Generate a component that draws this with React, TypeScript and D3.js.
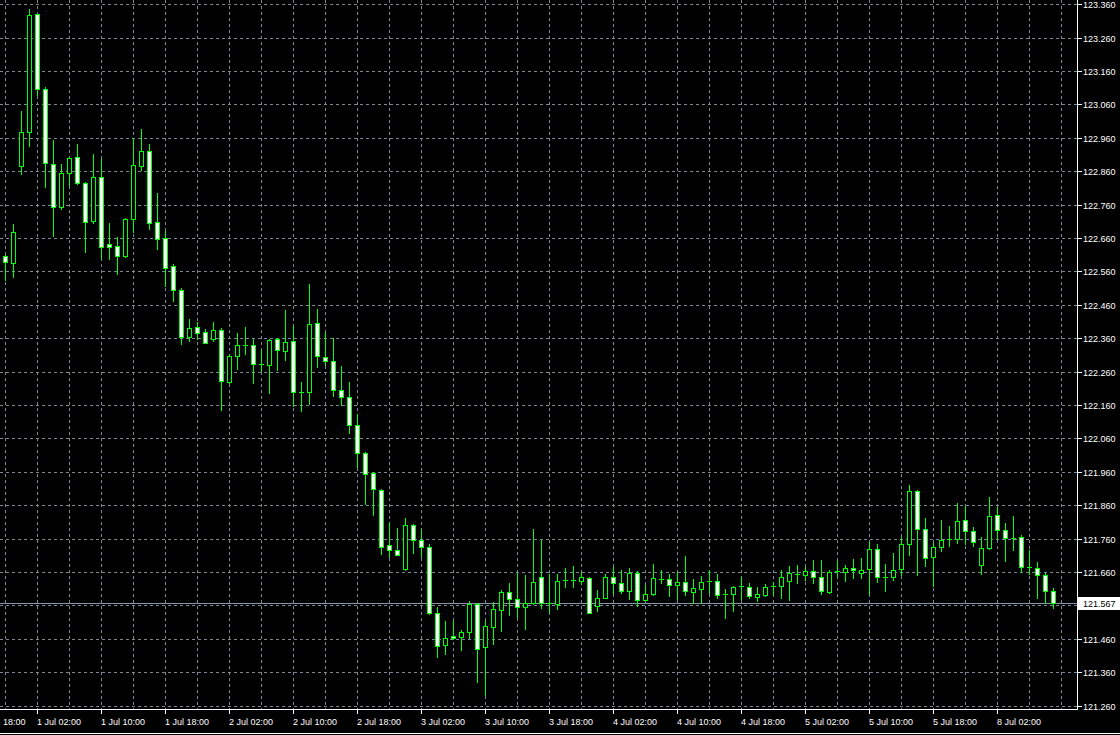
import React from "react";
import * as d3 from "d3";

// ---- data (hourly bars) ----
const sessions = [
  { start: Date.UTC(2019, 5, 30, 22), bars: 122 },
  { start: Date.UTC(2019, 6, 8, 0), bars: 10 },
];

const opens = [
  122.606, 122.587, 122.877, 122.979, 123.331, 123.108, 122.884, 122.754, 122.856, 122.905,
  122.827, 122.712, 122.845, 122.642, 122.636, 122.607, 122.718, 122.877, 122.923, 122.708,
  122.660, 122.576, 122.507, 122.365, 122.396, 122.381, 122.360, 122.387, 122.230, 122.308,
  122.342, 122.342, 122.284, 122.282, 122.360, 122.324, 122.354, 122.201, 122.201, 122.408,
  122.306, 122.294, 122.207, 122.186, 122.102, 122.019, 121.959, 121.908, 121.743, 121.728,
  121.670, 121.803, 121.758, 121.737, 121.539, 121.442, 121.470, 121.466, 121.481, 121.564,
  121.436, 121.496, 121.547, 121.602, 121.581, 121.557, 121.568, 121.647, 121.568, 121.566,
  121.636, 121.636, 121.635, 121.644, 121.560, 121.584, 121.646, 121.629, 121.604, 121.659,
  121.578, 121.596, 121.640, 121.640, 121.623, 121.632, 121.601, 121.610, 121.634, 121.635,
  121.595, 121.595, 121.619, 121.617, 121.586, 121.592, 121.618, 121.619, 121.635, 121.655,
  121.652, 121.665, 121.647, 121.601, 121.665, 121.661, 121.674, 121.658, 121.670, 121.731,
  121.647, 121.646, 121.670, 121.746, 121.905, 121.791, 121.706, 121.736, 121.759, 121.759,
  121.818, 121.785, 121.682, 121.733, 121.833, 121.787, 121.764, 121.767, 121.676, 121.674,
  121.653, 121.605,
];

const highs = [
  122.610, 122.702, 123.041, 123.347, 123.333, 123.112, 122.954, 122.882, 122.903, 122.944,
  122.830, 122.912, 122.899, 122.705, 122.663, 122.722, 122.961, 122.987, 122.944, 122.795,
  122.682, 122.582, 122.511, 122.418, 122.409, 122.388, 122.410, 122.391, 122.313, 122.376,
  122.394, 122.358, 122.325, 122.360, 122.362, 122.447, 122.399, 122.229, 122.525, 122.448,
  122.381, 122.363, 122.279, 122.229, 122.133, 122.022, 121.961, 121.910, 121.810, 121.792,
  121.822, 121.805, 121.791, 121.744, 121.556, 121.516, 121.516, 121.489, 121.573, 121.569,
  121.516, 121.570, 121.606, 121.627, 121.658, 121.652, 121.789, 121.756, 121.656, 121.656,
  121.672, 121.678, 121.661, 121.646, 121.608, 121.654, 121.676, 121.666, 121.672, 121.663,
  121.623, 121.685, 121.666, 121.656, 121.661, 121.708, 121.641, 121.650, 121.666, 121.656,
  121.611, 121.620, 121.645, 121.627, 121.615, 121.624, 121.630, 121.666, 121.678, 121.681,
  121.676, 121.696, 121.696, 121.666, 121.693, 121.681, 121.699, 121.704, 121.751, 121.746,
  121.684, 121.717, 121.766, 121.921, 121.908, 121.822, 121.749, 121.816, 121.798, 121.867,
  121.858, 121.796, 121.766, 121.885, 121.856, 121.808, 121.828, 121.773, 121.727, 121.690,
  121.659, 121.614,
];

const lows = [
  122.537, 122.545, 122.853, 122.937, 123.091, 122.814, 122.667, 122.748, 122.821, 122.823,
  122.619, 122.706, 122.601, 122.599, 122.555, 122.605, 122.678, 122.864, 122.687, 122.628,
  122.519, 122.472, 122.344, 122.352, 122.360, 122.346, 122.353, 122.145, 122.227, 122.269,
  122.314, 122.227, 122.262, 122.197, 122.266, 122.296, 122.157, 122.143, 122.165, 122.275,
  122.281, 122.189, 122.161, 122.076, 121.975, 121.864, 121.831, 121.715, 121.706, 121.711,
  121.668, 121.717, 121.706, 121.535, 121.406, 121.415, 121.460, 121.428, 121.463, 121.333,
  121.294, 121.446, 121.484, 121.532, 121.526, 121.490, 121.566, 121.552, 121.541, 121.550,
  121.616, 121.616, 121.626, 121.537, 121.544, 121.583, 121.597, 121.597, 121.579, 121.560,
  121.577, 121.592, 121.627, 121.588, 121.579, 121.591, 121.567, 121.568, 121.597, 121.584,
  121.523, 121.544, 121.581, 121.584, 121.574, 121.588, 121.594, 121.582, 121.576, 121.627,
  121.636, 121.628, 121.595, 121.598, 121.648, 121.633, 121.643, 121.643, 121.595, 121.632,
  121.604, 121.636, 121.653, 121.712, 121.652, 121.679, 121.619, 121.724, 121.739, 121.747,
  121.746, 121.740, 121.656, 121.731, 121.759, 121.694, 121.726, 121.661, 121.656, 121.583,
  121.568, 121.553,
];

const closes = [
  122.590, 122.678, 122.980, 123.329, 123.108, 122.886, 122.754, 122.857, 122.902, 122.826,
  122.709, 122.845, 122.634, 122.634, 122.607, 122.719, 122.881, 122.923, 122.706, 122.657,
  122.572, 122.506, 122.365, 122.393, 122.378, 122.348, 122.387, 122.233, 122.309, 122.342,
  122.342, 122.285, 122.284, 122.357, 122.327, 122.351, 122.201, 122.201, 122.405, 122.308,
  122.294, 122.207, 122.185, 122.102, 122.017, 121.956, 121.909, 121.736, 121.727, 121.712,
  121.803, 121.757, 121.736, 121.538, 121.439, 121.464, 121.464, 121.482, 121.564, 121.430,
  121.500, 121.551, 121.602, 121.580, 121.557, 121.569, 121.632, 121.569, 121.568, 121.635,
  121.636, 121.636, 121.647, 121.538, 121.584, 121.647, 121.629, 121.604, 121.659, 121.578,
  121.596, 121.644, 121.640, 121.623, 121.632, 121.604, 121.614, 121.632, 121.634, 121.592,
  121.595, 121.617, 121.619, 121.589, 121.596, 121.617, 121.618, 121.645, 121.657, 121.655,
  121.665, 121.647, 121.605, 121.662, 121.665, 121.674, 121.668, 121.668, 121.731, 121.647,
  121.647, 121.668, 121.746, 121.905, 121.791, 121.704, 121.737, 121.758, 121.759, 121.815,
  121.785, 121.752, 121.734, 121.830, 121.787, 121.764, 121.764, 121.676, 121.676, 121.652,
  121.605, 121.567,
];

const priceTicks = [
  "121.260", "121.360", "121.460", "121.560", "121.660", "121.760", "121.860", "121.960",
  "122.060", "122.160", "122.260", "122.360", "122.460", "122.560", "122.660", "122.760",
  "122.860", "122.960", "123.060", "123.160", "123.260", "123.360",
];

const lastPrice = 121.567;
// leftmost time label, only its visible part is shown in the reference
const firstTickLabel = "18:00";

const MONTHS = ["Jan", "Feb", "Mar", "Apr", "May", "Jun", "Jul", "Aug", "Sep", "Oct", "Nov", "Dec"];

// ---- layout ----
const W = 1120;
const H = 735;
const PLOT_R = 1077;
const PLOT_B = 709;
const BAR_STEP = 8;
const GREEN = "#00ff00";
const GRID = "#778899";
const FONT = "'Liberation Sans', Arial, sans-serif";

function buildTimes(): Date[] {
  const out: Date[] = [];
  sessions.forEach((s) => {
    for (let k = 0; k < s.bars; k++) out.push(new Date(s.start + k * 3600 * 1000));
  });
  return out;
}

function fmt(d: Date) {
  const hh = String(d.getUTCHours()).padStart(2, "0");
  return `${d.getUTCDate()} ${MONTHS[d.getUTCMonth()]} ${hh}:00`;
}

export default function App() {
  const times = buildTimes();
  const n = opens.length;
  const x = d3.scaleLinear().domain([0, n - 1]).range([5, 5 + BAR_STEP * (n - 1)]);
  const y = d3.scaleLinear().domain([121.26, 123.36]).range([706, 4.67]);
  const py = (p: number) => Math.round(y(p));

  // time ticks at 02:00, 10:00, 18:00
  const ticks: { i: number; label: string }[] = [];
  times.forEach((t, i) => {
    if (t.getUTCHours() % 8 === 2) ticks.push({ i, label: fmt(t) });
  });

  const vGrid: number[] = [];
  for (let i = 0; x(i) < PLOT_R - 4; i += 4) vGrid.push(i);

  const lastY = Math.round(y(lastPrice)) + 0.5;

  return (
    <svg
      width={W}
      height={H}
      style={{ position: "absolute", left: 0, top: 0, background: "#000", display: "block" }}
      shapeRendering="crispEdges"
    >
      <rect x={0} y={0} width={W} height={H} fill="#000" />
      {/* horizontal grid */}
      {priceTicks.map((t) => {
        const gy = Math.floor(y(+t)) + 0.5;
        return (
          <g key={t}>
            <line x1={0} x2={PLOT_R} y1={gy} y2={gy} stroke={GRID} strokeDasharray="3,3" />
            <line x1={PLOT_R + 1} x2={PLOT_R + 5} y1={gy} y2={gy} stroke="#ffffff" />
            <text x={1083} y={gy + 3.5} fill="#ffffff" fontFamily={FONT} fontSize={9}>
              {t}
            </text>
          </g>
        );
      })}
      {/* vertical grid */}
      {vGrid.map((i) => (
        <line
          key={i}
          x1={x(i) + 0.5}
          x2={x(i) + 0.5}
          y1={0}
          y2={PLOT_B}
          stroke={GRID}
          strokeDasharray="3,3"
        />
      ))}
      {/* last price line */}
      <line x1={0} x2={PLOT_R} y1={lastY} y2={lastY} stroke="#8a96a3" />
      {/* candles */}
      {opens.map((o, i) => {
        const c = closes[i];
        const cx = x(i);
        const top = py(Math.max(o, c));
        const bot = py(Math.min(o, c));
        const bull = c > o;
        return (
          <g key={i}>
            <line
              x1={cx + 0.5}
              x2={cx + 0.5}
              y1={py(highs[i])}
              y2={py(lows[i]) + 1}
              stroke={GREEN}
            />
            {bot - top < 1 ? (
              <line x1={cx - 2} x2={cx + 3} y1={top + 0.5} y2={top + 0.5} stroke={GREEN} />
            ) : (
              <rect
                x={cx - 1.5}
                y={top + 0.5}
                width={4}
                height={bot - top}
                fill={bull ? "#000000" : "#ffffff"}
                stroke={GREEN}
              />
            )}
          </g>
        );
      })}
      {/* borders */}
      <line x1={PLOT_R + 0.5} x2={PLOT_R + 0.5} y1={0} y2={PLOT_B + 1} stroke="#ffffff" />
      <line x1={0} x2={PLOT_R + 1} y1={PLOT_B + 0.5} y2={PLOT_B + 0.5} stroke="#ffffff" />
      {/* time axis */}
      <text x={3} y={725} fill="#ffffff" fontFamily={FONT} fontSize={9}>
        {firstTickLabel}
      </text>
      {ticks.map((t) => (
        <g key={t.i}>
          <line
            x1={x(t.i) + 0.5}
            x2={x(t.i) + 0.5}
            y1={PLOT_B + 1}
            y2={PLOT_B + 5}
            stroke="#ffffff"
          />
          <text x={x(t.i)} y={725} fill="#ffffff" fontFamily={FONT} fontSize={9}>
            {t.label}
          </text>
        </g>
      ))}
      {/* last price label */}
      <rect x={1078} y={lastY - 6.5} width={42} height={13} fill="#ffffff" />
      <text x={1083} y={lastY + 3.5} fill="#000000" fontFamily={FONT} fontSize={9}>
        {lastPrice.toFixed(3)}
      </text>
      <line x1={0} x2={W} y1={733.5} y2={733.5} stroke="#ffffff" />
    </svg>
  );
}
